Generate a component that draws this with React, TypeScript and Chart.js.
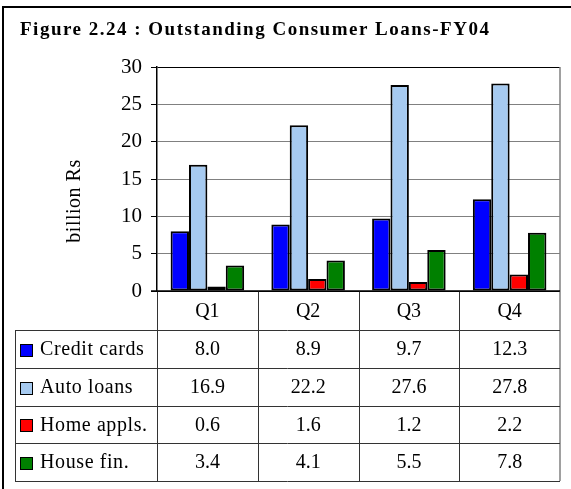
import React, { useEffect, useRef } from "react";
import { Chart, registerables } from "chart.js";

Chart.register(...registerables);

const titleText = "Figure 2.24 : Outstanding Consumer Loans-FY04";
const yAxisTitle = "billion Rs";
const categories = ["Q1", "Q2", "Q3", "Q4"];
const seriesNames = ["Credit cards", "Auto loans", "Home appls.", "House fin."];
const creditCards = [8.0, 8.9, 9.7, 12.3];
const autoLoans = [16.9, 22.2, 27.6, 27.8];
const homeAppls = [0.6, 1.6, 1.2, 2.2];
const houseFin = [3.4, 4.1, 5.5, 7.8];
const seriesColors = ["#0000FF", "#A6CAF0", "#FF0000", "#008000"];
const yMin = 0;
const yMax = 30;
const yStep = 5;

const W = 571;
const H = 489;
const FONT = '"Liberation Serif", "Times New Roman", serif';

const tablePlugin = {
  id: "tablePlugin",
  afterDraw(chart: any) {
    const ctx = chart.ctx as CanvasRenderingContext2D;
    const area = chart.chartArea;
    const xs = chart.scales.x;
    const series = [creditCards, autoLoans, homeAppls, houseFin];
    ctx.save();

    // outer frame (cut off right/bottom)
    ctx.strokeStyle = "#000";
    ctx.lineWidth = 2;
    ctx.beginPath();
    ctx.moveTo(3, H);
    ctx.lineTo(3, 7);
    ctx.lineTo(W, 7);
    ctx.stroke();

    // title
    ctx.fillStyle = "#000";
    ctx.font = "bold 19px " + FONT;
    ctx.textAlign = "left";
    ctx.textBaseline = "alphabetic";
    (ctx as any).letterSpacing = "1.5px";
    ctx.fillText(titleText, 20, 35);
    (ctx as any).letterSpacing = "0px";

    // y axis title
    ctx.save();
    ctx.font = "20px " + FONT;
    ctx.translate(75, 201);
    ctx.rotate(-Math.PI / 2);
    ctx.textAlign = "center";
    ctx.textBaseline = "middle";
    (ctx as any).letterSpacing = "0.5px";
    ctx.fillText(yAxisTitle, 0, 0);
    (ctx as any).letterSpacing = "0px";
    ctx.restore();

    // right plot border (gray)
    ctx.strokeStyle = "#808080";
    ctx.lineWidth = 1.5;
    const tableBottom = 481;
    ctx.beginPath();
    ctx.moveTo(area.right, area.top);
    ctx.lineTo(area.right, tableBottom);
    ctx.stroke();

    // table geometry
    const catTop = area.bottom;
    const catBottom = 330;
    const rowH = (tableBottom - catBottom) / seriesNames.length;
    const tableLeft = 15;
    const n = categories.length;
    const cw = (area.right - area.left) / n;

    ctx.strokeStyle = "#333";
    ctx.lineWidth = 1;
    ctx.beginPath();
    for (let r = 0; r <= seriesNames.length; r++) {
      const y = Math.round(catBottom + r * rowH) + 0.5;
      ctx.moveTo(tableLeft, y);
      ctx.lineTo(area.right, y);
    }
    ctx.moveTo(tableLeft + 0.5, catBottom);
    ctx.lineTo(tableLeft + 0.5, tableBottom);
    for (let i = 0; i < n; i++) {
      const xc = xs.getPixelForValue(i);
      const xl = Math.round(xc - cw / 2) + 0.5;
      ctx.moveTo(xl, catTop);
      ctx.lineTo(xl, tableBottom);
    }
    ctx.stroke();

    // axis line at bottom
    ctx.strokeStyle = "#000";
    ctx.lineWidth = 1.5;
    ctx.beginPath();
    ctx.moveTo(area.left - 6, area.bottom);
    ctx.lineTo(area.right, area.bottom);
    ctx.stroke();

    // category labels
    ctx.fillStyle = "#000";
    ctx.font = "20px " + FONT;
    ctx.textAlign = "center";
    ctx.textBaseline = "middle";
    for (let i = 0; i < n; i++) {
      ctx.fillText(categories[i], xs.getPixelForValue(i), (catTop + catBottom) / 2 + 1);
    }

    // rows
    for (let r = 0; r < seriesNames.length; r++) {
      const yc = catBottom + r * rowH + rowH / 2 + 1;
      ctx.fillStyle = seriesColors[r];
      ctx.fillRect(20, Math.round(yc - 6), 13, 13);
      ctx.strokeStyle = "#000";
      ctx.lineWidth = 1;
      ctx.strokeRect(20.5, Math.round(yc - 6) + 0.5, 12, 12);
      ctx.fillStyle = "#000";
      ctx.textAlign = "left";
      (ctx as any).letterSpacing = "0.6px";
      ctx.fillText(seriesNames[r], 40, yc);
      (ctx as any).letterSpacing = "0px";
      ctx.textAlign = "center";
      for (let i = 0; i < n; i++) {
        ctx.fillText(series[r][i].toFixed(1), xs.getPixelForValue(i), yc);
      }
    }
    ctx.restore();
  },
};

export default function App() {
  const ref = useRef<HTMLCanvasElement>(null);
  useEffect(() => {
    if (!ref.current) return;
    const series = [creditCards, autoLoans, homeAppls, houseFin];
    const chart = new Chart(ref.current, {
      type: "bar",
      data: {
        labels: categories,
        datasets: seriesNames.map((name, i) => ({
          label: name,
          data: series[i],
          backgroundColor: seriesColors[i],
          borderColor: "#000",
          borderWidth: 2,
          borderSkipped: false,
          barPercentage: 1,
          categoryPercentage: 0.73,
        })),
      },
      options: {
        responsive: false,
        animation: false,
        devicePixelRatio: 1,
        layout: { padding: { left: 0, top: 67, right: 11, bottom: H - 291 } },
        plugins: {
          legend: { display: false },
          tooltip: { enabled: false },
          title: { display: false },
        },
        scales: {
          x: {
            display: false,
            offset: true,
          },
          y: {
            min: yMin,
            max: yMax,
            ticks: {
              stepSize: yStep,
              color: "#000",
              padding: 9,
              font: { family: FONT, size: 21 },
            },
            grid: {
              color: (c: any) =>
                c.tick && (c.tick.value === yMax || c.tick.value === yMin) ? "#000" : "#808080",
              lineWidth: 1,
              tickLength: 6,
              tickColor: "#000",
            },
            border: { display: true, color: "#000", width: 1.5 },
            afterFit: (scale: any) => {
              scale.width = 157;
            },
          },
        },
      },
      plugins: [tablePlugin],
    });
    return () => chart.destroy();
  }, []);
  return (
    <div style={{ position: "absolute", left: 0, top: 0, width: W, height: H, background: "#fff" }}>
      <canvas ref={ref} width={W} height={H} style={{ width: W, height: H, display: "block" }} />
    </div>
  );
}
